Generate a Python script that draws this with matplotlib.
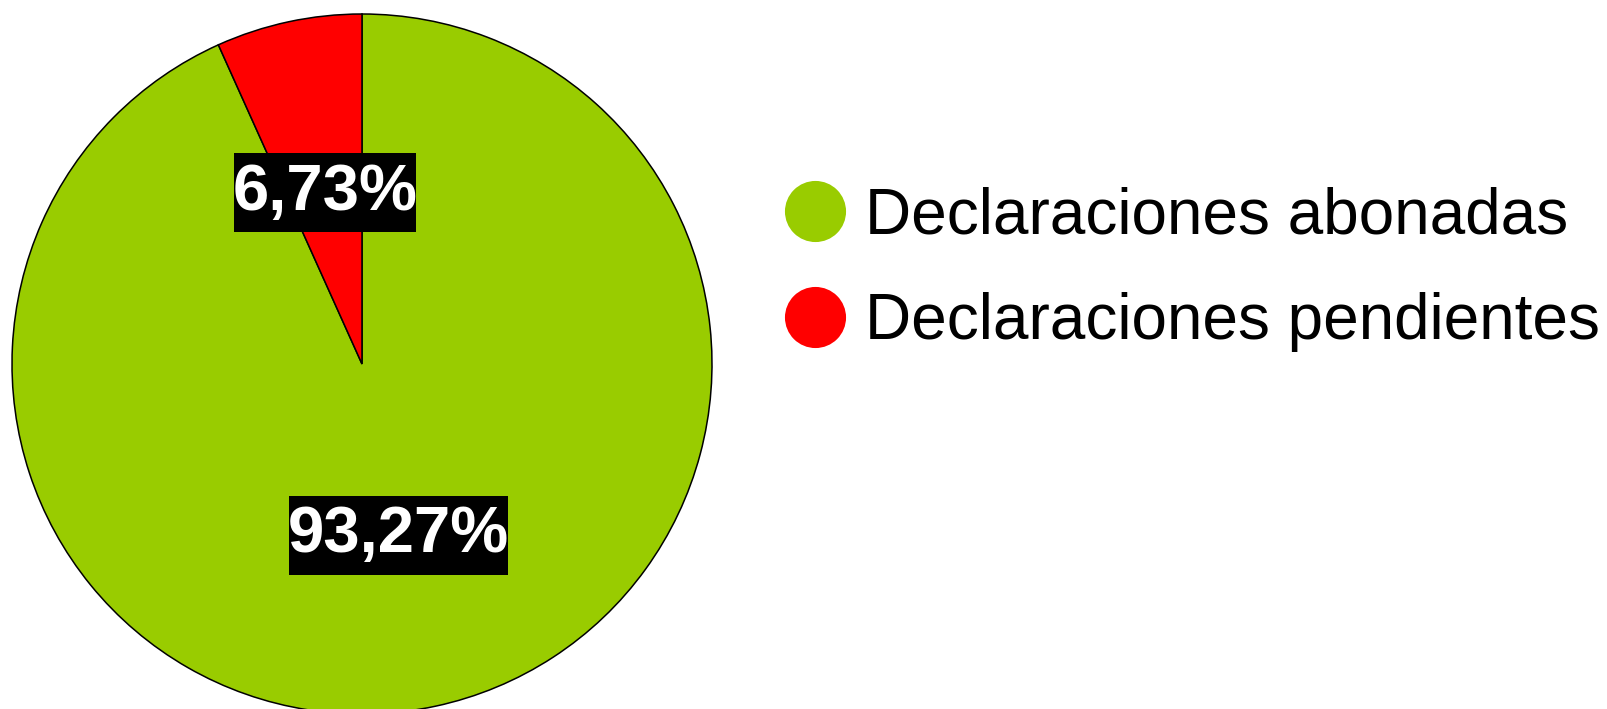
import matplotlib.pyplot as plt
from matplotlib.lines import Line2D
from matplotlib.path import Path

plt.rcParams['font.family'] = ['Liberation Sans', 'DejaVu Sans']

# Data
labels = ['Declaraciones abonadas', 'Declaraciones pendientes']
values = [93.27, 6.73]
colors = ['#99cc00', '#ff0000']


def tall_box(x0, y0, width, height, mutation_size):
    # label box: tight at the sides, padded above and below
    px, py = -0.02 * mutation_size, 0.145 * mutation_size
    return Path([(x0 - px, y0 - py), (x0 + width + px, y0 - py),
                 (x0 + width + px, y0 + height + py), (x0 - px, y0 + height + py),
                 (x0 - px, y0 - py)], closed=True)


fig = plt.figure(figsize=(16.07, 7.09), dpi=100)
ax = fig.add_axes([12 / 1607, -5 / 709, 700 / 1607, 700 / 709])

wedges, texts, autotexts = ax.pie(
    values, colors=colors, startangle=90, counterclock=False,
    autopct=lambda p: f'{p:.2f}%'.replace('.', ','), pctdistance=0.5,
    wedgeprops=dict(edgecolor='black', linewidth=1.1),
    textprops=dict(color='white', fontsize=47, fontweight='bold'))

for t in autotexts:
    t.set_bbox(dict(boxstyle=tall_box, facecolor='black', edgecolor='none'))

ax.set_xlim(-1, 1)
ax.set_ylim(-1, 1)
ax.set_aspect('equal')
ax.axis('off')

# Legend with round markers
handles = [Line2D([0], [0], marker='o', linestyle='none', markersize=44,
                  markerfacecolor=c, markeredgecolor='none') for c in colors]
fig.legend(handles, labels, loc='center left', bbox_to_anchor=(785 / 1607, 440 / 709),
           frameon=False, fontsize=46, handlelength=0.95, handletextpad=0.3,
           labelspacing=0.72, borderpad=0, borderaxespad=0)

fig.savefig('out.png', dpi=100)
